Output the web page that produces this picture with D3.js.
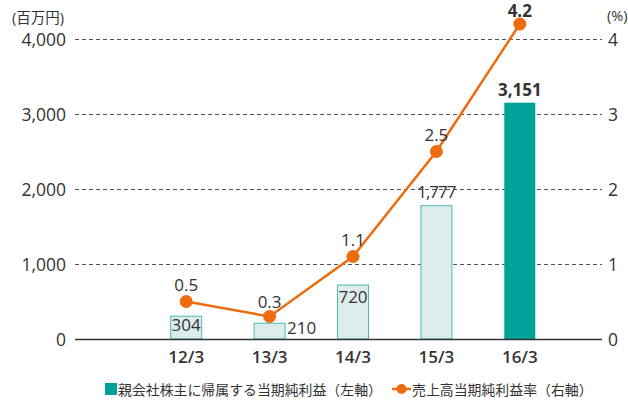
<!DOCTYPE html>
<html><head><meta charset="utf-8">
<script src="https://cdn.jsdelivr.net/npm/d3@7"></script>
<style>
body{margin:0;background:#fff;}
svg text{font-family:"Open Sans","Noto Sans CJK JP",sans-serif;fill:#333;}
</style></head>
<body><svg id="c" width="628" height="404"></svg>
<script>
const categories = ["12/3","13/3","14/3","15/3","16/3"];
const profit = [304,210,720,1777,3151];
const profitLabels = ["304","210","720","1,777","3,151"];
const margin = [0.5,0.3,1.1,2.5,4.2];
const leftTicks = [0,1000,2000,3000,4000];
const rightTicks = [0,1,2,3,4];

const svg = d3.select("#c");
const x0 = 75, x1 = 602, yTop = 39, yBot = 339;
const x = d3.scaleBand().domain(categories).range([144.5,561.5]).paddingInner(0.63).paddingOuter(0.315);
const yL = d3.scaleLinear().domain([0,4000]).range([yBot,yTop]);
const yR = d3.scaleLinear().domain([0,4]).range([yBot,yTop]);
const bw = 31;
const cx = d => x(d)+x.bandwidth()/2;

// grid
svg.append("g").selectAll("line").data(leftTicks.filter(d=>d>0)).join("line")
  .attr("x1",x0).attr("x2",x1).attr("y1",d=>yL(d)+0.5).attr("y2",d=>yL(d)+0.5)
  .attr("stroke","#555").attr("stroke-width",1).attr("stroke-dasharray","4,3");

// left axis
const la = svg.append("g").attr("transform",`translate(${x0-9},0)`)
  .call(d3.axisLeft(yL).tickValues(leftTicks).tickSize(0).tickPadding(0).tickFormat(d3.format(",")));
la.select(".domain").remove();
la.selectAll("text").attr("font-size",17.5).attr("dy","0.35em").style("font-weight",400).attr("fill","#3a3a3a");
// right axis
const ra = svg.append("g").attr("transform",`translate(${x1+6},0)`)
  .call(d3.axisRight(yR).tickValues(rightTicks).tickSize(0).tickPadding(0).tickFormat(d3.format("d")));
ra.select(".domain").remove();
ra.selectAll("text").attr("font-size",17.5).attr("dy","0.35em").style("font-weight",400).attr("fill","#3a3a3a");

svg.append("text").attr("x",12).attr("y",23).attr("font-size",14.5).text("(百万円)");
svg.append("text").attr("x",607).attr("y",21).attr("font-size",14.5).text("(%)");

// bars
svg.append("g").selectAll("rect").data(categories).join("rect")
  .attr("x",d=>cx(d)-bw/2).attr("width",bw)
  .attr("y",(d,i)=>yL(profit[i])).attr("height",(d,i)=>yBot-yL(profit[i]))
  .attr("fill",(d,i)=>i===4?"#00a199":"#dcecea")
  .attr("stroke",(d,i)=>i===4?"none":"#4dbdb4").attr("stroke-width",1);

// baseline
svg.append("line").attr("x1",x0).attr("x2",x1).attr("y1",yBot+0.5).attr("y2",yBot+0.5).attr("stroke","#333").attr("stroke-width",1.5);

// x axis labels
const xa = svg.append("g").attr("transform",`translate(0,${yBot})`)
  .call(d3.axisBottom(x).tickSize(0).tickPadding(12));
xa.select(".domain").remove();
xa.selectAll("text").attr("font-size",17).style("font-weight",600).attr("fill","#333");

// bar labels
const barLabelPos = [
  {dx:0, off:15, anchor:"middle"},
  {dx:bw/2+2, off:null, anchor:"start"},
  {dx:0, off:18, anchor:"middle"},
  {dx:0, off:-8, anchor:"middle"},
  {dx:0, off:-7, anchor:"middle"}
];
svg.append("g").selectAll("text").data(categories).join("text")
  .attr("x",(d,i)=>cx(d)+barLabelPos[i].dx)
  .attr("y",(d,i)=>barLabelPos[i].off===null? yBot-5 : yL(profit[i])+barLabelPos[i].off)
  .attr("text-anchor",(d,i)=>barLabelPos[i].anchor)
  .attr("font-size",17).style("font-weight",(d,i)=>i===4?700:400)
  .attr("fill","#3a3a3a")
  .style("letter-spacing",(d,i)=>i===3?"-1px":"0")
  .text((d,i)=>profitLabels[i]);

// line
const orange = "#ec6c0f";
svg.append("path").datum(margin)
  .attr("d",d3.line().x((d,i)=>cx(categories[i])).y(d=>yR(d)))
  .attr("fill","none").attr("stroke",orange).attr("stroke-width",2.5);
svg.append("g").selectAll("circle").data(margin).join("circle")
  .attr("cx",(d,i)=>cx(categories[i])).attr("cy",d=>yR(d)).attr("r",6.5).attr("fill",orange);
svg.append("g").selectAll("text").data(margin).join("text")
  .attr("x",(d,i)=>cx(categories[i])).attr("y",(d,i)=>Math.max(yR(d)-(i===1?9:11), 17))
  .attr("text-anchor","middle").attr("font-size",17)
  .style("font-weight",(d,i)=>i===4?700:400).attr("fill","#3a3a3a")
  .text(d=>d.toFixed(1));

// legend
const lg = svg.append("g");
lg.append("rect").attr("x",105).attr("y",383).attr("width",12).attr("height",12).attr("fill","#00a199");
lg.append("text").attr("x",118).attr("y",395).attr("font-size",13.9).text("親会社株主に帰属する当期純利益（左軸）");
lg.append("line").attr("x1",392).attr("x2",411).attr("y1",389).attr("y2",389).attr("stroke",orange).attr("stroke-width",2.5);
lg.append("circle").attr("cx",401.5).attr("cy",389).attr("r",5).attr("fill",orange);
lg.append("text").attr("x",412).attr("y",395).attr("font-size",13.9).text("売上高当期純利益率（右軸）");
</script></body></html>
